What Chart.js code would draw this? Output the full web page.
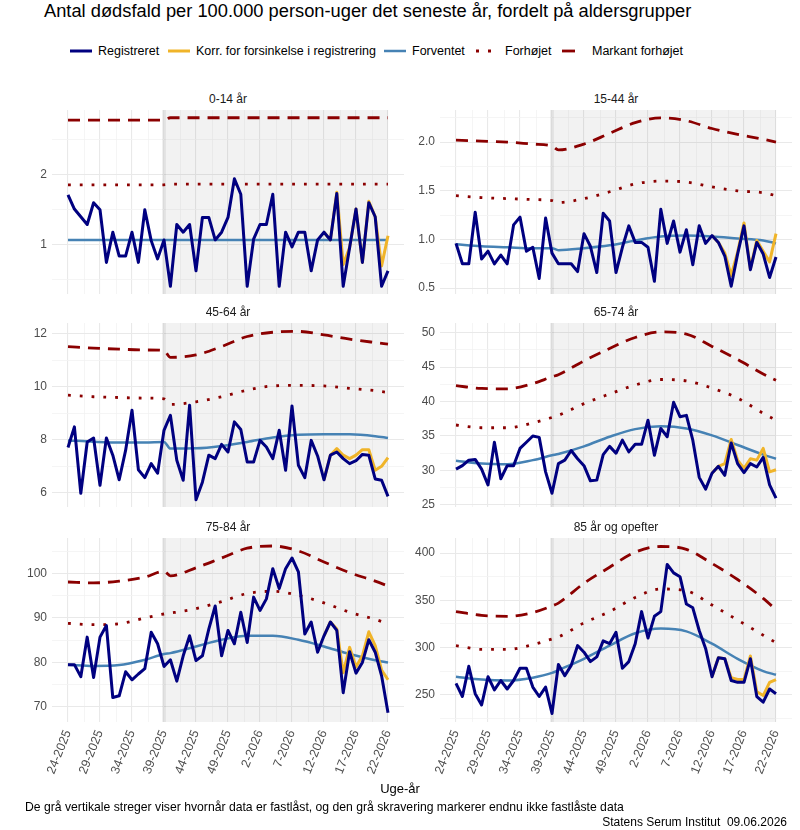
<!DOCTYPE html>
<html>
<head>
<meta charset="utf-8">
<script src="https://cdn.jsdelivr.net/npm/chart.js@4.4.1/dist/chart.umd.min.js"></script>
<style>
  body { margin: 0; background: #fff; }
  #page { position: relative; width: 800px; height: 830px; overflow: hidden; font-family: "Liberation Sans", Arial, sans-serif; color: #000; }
  .txt { position: absolute; white-space: nowrap; }
  #title { left: 44px; top: 0px; font-size: 18.3px; line-height: 22px; }
  .leg { position: absolute; top: 43px; height: 16px; line-height: 16px; font-size: 12.5px; white-space: nowrap; }
  .leg svg { position: absolute; top: 3px; }
  .strip { position: absolute; text-align: center; font-size: 12px; line-height: 16px; color: #1a1a1a; }
  canvas { position: absolute; }
  #xtitle { left: 0; width: 800px; text-align: center; top: 781px; font-size: 13px; line-height: 16px; }
  #caption { left: 25px; top: 800px; font-size: 12.2px; line-height: 14px; }
  #source { right: 13px; top: 815px; font-size: 12px; line-height: 14px; }
</style>
</head>
<body>
<div id="page">
  <div id="title" class="txt">Antal dødsfald per 100.000 person-uger det seneste år, fordelt på aldersgrupper</div>
  <div id="legend"></div>
  <div id="panels"></div>
  <div id="xtitle" class="txt">Uge-år</div>
  <div id="caption" class="txt">De grå vertikale streger viser hvornår data er fastlåst, og den grå skravering markerer endnu ikke fastlåste data</div>
  <div id="source" class="txt">Statens Serum Institut&nbsp; 09.06.2026</div>
</div>
<script>
// ---- data ----
const weeks = ['24-2025','25-2025','26-2025','27-2025','28-2025','29-2025','30-2025','31-2025','32-2025','33-2025',
  '34-2025','35-2025','36-2025','37-2025','38-2025','39-2025','40-2025','41-2025','42-2025','43-2025',
  '44-2025','45-2025','46-2025','47-2025','48-2025','49-2025','50-2025','51-2025','52-2025','1-2026',
  '2-2026','3-2026','4-2026','5-2026','6-2026','7-2026','8-2026','9-2026','10-2026','11-2026',
  '12-2026','13-2026','14-2026','15-2026','16-2026','17-2026','18-2026','19-2026','20-2026','21-2026','22-2026'];
const xTickLabels = ['24-2025','29-2025','34-2025','39-2025','44-2025','49-2025','2-2026','7-2026','12-2026','17-2026','22-2026'];
const lockWeek = '39-2025';
const korrWeeks = ['12-2026','13-2026','14-2026','15-2026','16-2026','17-2026','18-2026','19-2026','20-2026','21-2026','22-2026'];
const refWeeks = ['24-2025','28-2025','32-2025','36-2025','39-2025','40-2025','44-2025','48-2025','52-2025','4-2026','8-2026','12-2026','16-2026','20-2026','22-2026'];
const groups = ['0-14 år','15-44 år','45-64 år','65-74 år','75-84 år','85 år og opefter'];
const seriesNames = ['Registreret','Korr. for forsinkelse i registrering','Forventet','Forhøjet','Markant forhøjet'];

// 0-14 år
const reg014 = [1.71,1.51,1.40,1.29,1.60,1.50,0.75,1.18,0.84,0.84,1.18,0.75,1.50,1.06,0.80,1.07,0.41,1.29,1.18,1.29,
  0.63,1.39,1.39,1.07,1.18,1.39,1.94,1.72,0.41,1.08,1.29,1.29,1.72,0.41,1.18,0.97,1.18,1.18,0.63,1.07,
  1.18,1.07,1.73,0.41,0.96,1.51,0.75,1.60,1.40,0.41,0.63];
const korr014 = [1.18,1.07,1.75,0.72,0.96,1.51,0.75,1.62,1.40,0.70,1.13];
const forv014 = [1.07,1.07,1.07,1.07,1.07,1.07,1.07,1.07,1.07,1.07,1.07,1.07,1.07,1.07,1.07];
const forh014 = [1.855,1.855,1.855,1.855,1.855,1.865,1.865,1.865,1.865,1.865,1.865,1.865,1.865,1.865,1.865];
const mark014 = [2.775,2.775,2.775,2.775,2.775,2.81,2.81,2.81,2.81,2.81,2.81,2.81,2.81,2.81,2.81];
const yTicks014 = [1, 2];

// 15-44 år
const reg1544 = [0.96,0.75,0.75,1.28,0.80,0.88,0.75,0.84,0.75,1.15,1.23,0.88,0.92,0.60,1.22,0.86,0.75,0.75,0.75,0.67,
  1.06,0.93,0.66,1.27,1.19,0.66,0.92,1.14,0.97,0.97,0.92,0.57,1.31,0.96,1.19,0.87,1.10,0.74,1.14,0.96,
  1.04,0.97,0.83,0.52,0.85,1.14,0.69,0.97,0.85,0.61,0.82];
const korr1544 = [1.04,0.97,0.86,0.63,0.87,1.17,0.70,0.99,0.88,0.77,1.06];
const forv1544 = [0.95,0.93,0.92,0.91,0.91,0.89,0.91,0.94,0.99,1.03,1.04,1.03,1.01,0.99,0.96];
const forh1544 = [1.45,1.43,1.42,1.41,1.40,1.38,1.42,1.49,1.57,1.60,1.59,1.54,1.50,1.48,1.45];
const mark1544 = [2.02,2.01,2.00,1.98,1.96,1.92,1.98,2.09,2.20,2.25,2.22,2.14,2.08,2.03,2.00];
const yTicks1544 = [0.5, 1.0, 1.5, 2.0];

// 45-64 år
const reg4564 = [7.70,8.48,5.97,7.91,8.06,6.27,8.06,7.41,6.48,7.59,9.11,6.86,6.56,7.09,6.73,8.35,8.92,7.22,6.46,9.30,
  5.72,6.39,7.41,7.28,7.82,7.53,8.67,8.38,7.15,7.15,7.97,7.72,7.28,8.35,6.84,9.27,7.03,6.56,7.97,7.38,
  6.48,7.41,7.53,7.28,7.09,7.20,7.44,7.41,6.51,6.46,5.85];
const korr4564 = [6.48,7.41,7.66,7.41,7.28,7.41,7.62,7.62,6.84,6.99,7.32];
const forv4564 = [7.97,7.92,7.89,7.89,7.91,7.66,7.67,7.76,7.91,8.08,8.18,8.20,8.20,8.13,8.06];
const forh4564 = [9.68,9.62,9.59,9.57,9.54,9.33,9.43,9.62,9.87,10.03,10.05,10.03,9.94,9.85,9.78];
const mark4564 = [11.52,11.46,11.42,11.39,11.37,11.11,11.20,11.52,11.90,12.06,12.09,11.96,11.80,11.67,11.61];
const yTicks4564 = [6, 8, 10, 12];

// 65-74 år
const reg6574 = [30.2,30.7,31.5,31.6,30.2,27.9,34.1,28.8,30.7,30.7,33.2,34.1,35.0,34.8,29.8,26.7,31.0,31.5,32.9,31.7,
  30.7,28.5,28.6,32.3,33.5,32.5,34.4,32.7,33.8,33.8,37.3,32.2,36.1,34.9,39.9,37.8,38.0,34.4,29.0,27.3,
  29.6,30.6,29.3,34.0,31.0,29.7,31.0,30.5,31.9,27.9,26.0];
const korr6574 = [29.6,30.6,31.0,34.5,31.5,30.3,31.7,31.5,33.2,29.8,30.1];
const forv6574 = [31.4,31.0,30.9,31.5,32.2,32.4,33.5,34.9,36.0,36.4,36.1,35.1,33.7,32.3,31.7];
const forh6574 = [36.6,36.2,36.2,36.9,37.7,38.0,39.7,41.1,42.4,43.2,43.0,41.95,40.5,38.3,37.3];
const mark6574 = [42.3,41.9,41.85,42.6,43.6,43.9,45.9,47.7,49.3,50.1,49.8,48.0,46.1,44.0,43.1];
const yTicks6574 = [25, 30, 35, 40, 45, 50];

// 75-84 år
const reg7584 = [79.5,79.5,76.8,85.7,76.6,85.7,88.3,72.1,72.5,77.9,76.1,77.4,78.6,86.8,84.2,79.1,80.6,75.8,81.5,86.0,
  80.4,81.5,87.5,92.7,81.5,87.2,84.2,91.3,84.5,94.7,91.7,94.3,101.1,96.6,101.1,103.5,100.4,86.4,89.1,82.3,
  86.0,89.1,87.2,73.2,82.4,77.6,80.0,85.1,82.3,77.0,68.7];
const korr7584 = [86.0,89.1,87.5,77.7,83.4,79.0,81.5,86.9,83.8,78.3,76.1];
const forv7584 = [79.5,79.2,79.4,80.6,81.9,82.1,83.6,85.1,86.0,86.0,85.1,83.6,81.9,80.5,80.0];
const forh7584 = [88.8,88.5,88.7,90.0,90.9,91.1,92.1,93.7,95.5,96.0,95.1,93.4,91.3,89.7,88.7];
const mark7584 = [98.1,97.9,98.3,99.2,100.5,99.5,101.3,103.5,105.7,106.2,105.1,102.6,100.2,98.3,97.2];
const yTicks7584 = [70, 80, 90, 100];

// 85 år og opefter
const reg85 = [262,248,280,251,239,269,255,265,256,265,278,278,258,248,258,230,282,270,281,302,
  295,285,290,307,304,316,278,285,304,338,310,333,338,388,379,375,346,342,318,299,
  269,289,288,265,263,263,288,248,242,256,251];
const korr85 = [269,289,288,268,266,266,291,253,249,263,266];
const forv85 = [269,266,265,268,273,276,288,302,315,320,317,304,288,275,271];
const forh85 = [302,298,298,303,309,311,326,338,353,362,360,345,329,313,305];
const mark85 = [338,334,333,337,344,347,368,385,401,407,404,389,372,352,340];
const yTicks85 = [250, 300, 350, 400];

// ---- styles / layout ----
const C_REG = '#000080', C_KORR = '#f0b429', C_FORV = '#4682b4', C_RED = '#8b0000';
const DOT = [2.8, 9], DASH = [12, 8];
const colGeom = [{ left: 0, width: 404, axisW: 52 }, { left: 392, width: 400, axisW: 48 }];
const rowTop = [110, 323, 538];
const plotH = 184, pad = 12, xAxisH = 64;

const panels = [
  { label: groups[0], reg: reg014, korr: korr014, forv: forv014, forh: forh014, mark: mark014, ticks: yTicks014, dec: 0, lim: [0.30, 2.92], row: 0, col: 0 },
  { label: groups[1], reg: reg1544, korr: korr1544, forv: forv1544, forh: forh1544, mark: mark1544, ticks: yTicks1544, dec: 1, lim: [0.44, 2.33], row: 0, col: 1 },
  { label: groups[2], reg: reg4564, korr: korr4564, forv: forv4564, forh: forh4564, mark: mark4564, ticks: yTicks4564, dec: 0, lim: [5.45, 12.41], row: 1, col: 0 },
  { label: groups[3], reg: reg6574, korr: korr6574, forv: forv6574, forh: forh6574, mark: mark6574, ticks: yTicks6574, dec: 0, lim: [24.7, 51.4], row: 1, col: 1 },
  { label: groups[4], reg: reg7584, korr: korr7584, forv: forv7584, forh: forh7584, mark: mark7584, ticks: yTicks7584, dec: 0, lim: [66.6, 108.0], row: 2, col: 0 },
  { label: groups[5], reg: reg85, korr: korr85, forv: forv85, forh: forh85, mark: mark85, ticks: yTicks85, dec: 0, lim: [221, 416], row: 2, col: 1 }
];

Chart.defaults.font.family = '"Liberation Sans", Arial, sans-serif';
Chart.defaults.color = '#4d4d4d';

const idx = w => weeks.indexOf(w);
const pts = (ws, vals) => vals.map((v, i) => ({ x: idx(ws[i]), y: v }));

// grid positions: every 2.5 weeks (major every 5)
const xGrid = [];
for (let v = 0; v <= weeks.length - 1; v += 2.5) xGrid.push(v);

function yGridFor(ticks, lim) {
  const step = ticks[1] - ticks[0];
  const out = [];
  for (let v = ticks[0] - step / 2; v <= lim[1]; v += step / 2) {
    if (v >= lim[0]) out.push(+v.toFixed(4));
  }
  return out;
}

const lockPlugin = {
  id: 'lock',
  beforeDatasetsDraw(chart) {
    const { ctx, chartArea: a, scales: { x } } = chart;
    const x0 = x.getPixelForValue(idx(lockWeek));
    const x1 = x.getPixelForValue(weeks.length - 1);
    ctx.save();
    ctx.fillStyle = 'rgba(0,0,0,0.05)';
    ctx.fillRect(x0, a.top, x1 - x0, a.bottom - a.top);
    ctx.strokeStyle = 'rgba(0,0,0,0.06)';
    ctx.lineWidth = 4;
    ctx.beginPath();
    ctx.moveTo(x0, a.top);
    ctx.lineTo(x0, a.bottom);
    ctx.stroke();
    ctx.restore();
  }
};

const host = document.getElementById('panels');

panels.forEach((p, n) => {
  const g = colGeom[p.col];
  const showX = p.row === 2;
  const top = rowTop[p.row] - pad;
  const h = pad + plotH + (showX ? xAxisH : pad);

  const strip = document.createElement('div');
  strip.className = 'strip';
  strip.style.left = (g.left + g.axisW) + 'px';
  strip.style.width = (g.width - g.axisW) + 'px';
  strip.style.top = (rowTop[p.row] - 19) + 'px';
  strip.textContent = p.label;
  host.appendChild(strip);

  const cv = document.createElement('canvas');
  cv.width = g.width; cv.height = h;
  cv.style.left = g.left + 'px'; cv.style.top = top + 'px';
  cv.style.width = g.width + 'px'; cv.style.height = h + 'px';
  host.appendChild(cv);

  const yGrid = yGridFor(p.ticks, p.lim);
  const isMajorY = v => p.ticks.some(t => Math.abs(t - v) < 1e-6);

  new Chart(cv.getContext('2d'), {
    type: 'line',
    data: {
      datasets: [
        { label: seriesNames[0], data: pts(weeks, p.reg), borderColor: C_REG, borderWidth: 3, order: 0 },
        { label: seriesNames[1], data: pts(korrWeeks, p.korr), borderColor: C_KORR, borderWidth: 3, order: 1 },
        { label: seriesNames[2], data: pts(refWeeks, p.forv), borderColor: C_FORV, borderWidth: 2.5, cubicInterpolationMode: 'monotone', order: 2 },
        { label: seriesNames[3], data: pts(refWeeks, p.forh), borderColor: C_RED, borderWidth: 2.8, borderDash: DOT, cubicInterpolationMode: 'monotone', order: 3 },
        { label: seriesNames[4], data: pts(refWeeks, p.mark), borderColor: C_RED, borderWidth: 2.8, borderDash: DASH, cubicInterpolationMode: 'monotone', order: 4 }
      ]
    },
    options: {
      responsive: false,
      animation: false,
      events: [],
      elements: { point: { radius: 0 }, line: { borderJoinStyle: 'round' } },
      layout: { padding: { top: pad, bottom: showX ? 0 : pad, left: 0, right: 0 } },
      plugins: { legend: { display: false }, tooltip: { enabled: false }, title: { display: false } },
      scales: {
        x: {
          type: 'linear', min: -2.5, max: 52.5,
          afterBuildTicks: s => { s.ticks = xGrid.map(v => ({ value: v })); },
          afterFit: s => { s.height = showX ? xAxisH : 0; s.paddingLeft = 0; s.paddingRight = 0; },
          border: { display: false },
          grid: {
            drawTicks: false,
            color: c => (c.tick && c.tick.value % 5 === 0) ? '#e9e9e9' : '#f2f2f2',
            lineWidth: c => (c.tick && c.tick.value % 5 === 0) ? 1.1 : 0.8
          },
          ticks: {
            display: showX, autoSkip: false, minRotation: 68, maxRotation: 68, padding: 6,
            color: '#4d4d4d', font: { size: 12.5 },
            callback: v => xTickLabels.includes(weeks[v]) ? weeks[v] : ''
          }
        },
        y: {
          min: p.lim[0], max: p.lim[1],
          afterBuildTicks: s => { s.ticks = yGrid.map(v => ({ value: v })); },
          afterFit: s => { s.width = g.axisW; s.paddingTop = 0; s.paddingBottom = 0; },
          border: { display: false },
          grid: {
            drawTicks: false,
            color: c => (c.tick && isMajorY(c.tick.value)) ? '#e9e9e9' : '#f2f2f2',
            lineWidth: c => (c.tick && isMajorY(c.tick.value)) ? 1.1 : 0.8
          },
          ticks: {
            padding: 5, color: '#4d4d4d', font: { size: 12 },
            callback: v => isMajorY(v) ? v.toFixed(p.dec) : ''
          }
        }
      }
    },
    plugins: [lockPlugin]
  });
});

// ---- legend ----
const legendItems = [
  { name: seriesNames[0], color: C_REG, w: 3, dash: null, icon: 70, text: 98 },
  { name: seriesNames[1], color: C_KORR, w: 3, dash: null, icon: 168, text: 196 },
  { name: seriesNames[2], color: C_FORV, w: 2.5, dash: null, icon: 384, text: 412 },
  { name: seriesNames[3], color: C_RED, w: 2.8, dash: '3 9', icon: 476, text: 505 },
  { name: seriesNames[4], color: C_RED, w: 2.8, dash: '13 9', icon: 562, text: 592 }
];
const leg = document.getElementById('legend');
legendItems.forEach(it => {
  const d = document.createElement('div');
  d.className = 'leg';
  d.style.left = it.icon + 'px';
  const dashAttr = it.dash ? ` stroke-dasharray="${it.dash}"` : '';
  d.innerHTML = `<svg width="22" height="10" style="left:0"><line x1="0" y1="5" x2="22" y2="5" stroke="${it.color}" stroke-width="${it.w}"${dashAttr}/></svg>` +
    `<span style="position:absolute;left:${it.text - it.icon}px">${it.name}</span>`;
  leg.appendChild(d);
});
</script>
</body>
</html>
